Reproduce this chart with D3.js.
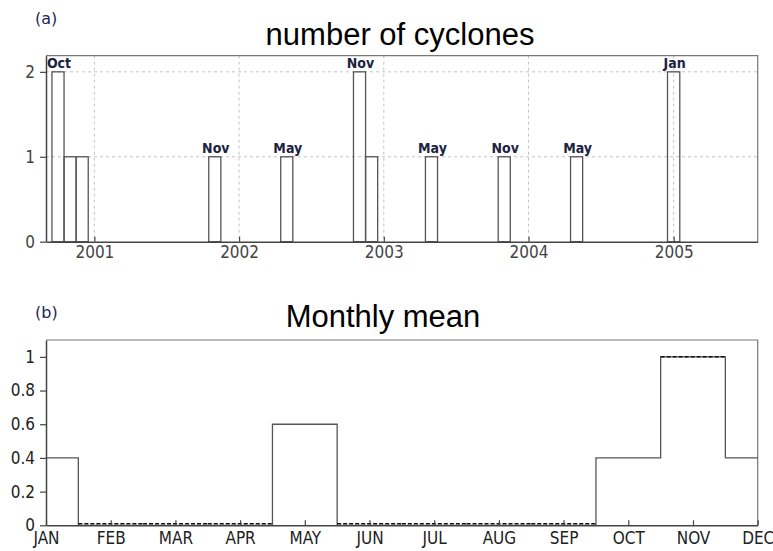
<!DOCTYPE html>
<html>
<head>
<meta charset="utf-8">
<script src="https://cdn.jsdelivr.net/npm/d3@7"></script>
<style>
  body { margin: 0; background: #fff; }
  text { fill: #222; }
  .narrow { font-family: "DejaVu Sans Condensed", "Liberation Sans Narrow", sans-serif; }
</style>
</head>
<body>
<script>
// (a) monthly cyclone counts (only months with cyclones)
var cycloneMonths = ['2000-10', '2000-11', '2000-12', '2001-11', '2002-05', '2002-11', '2002-12', '2003-05', '2003-11', '2004-05', '2005-01'];
var cycloneCounts = [2, 1, 1, 1, 1, 2, 1, 1, 1, 1, 2];
var cycloneLabels = ['Oct', '', '', 'Nov', 'May', 'Nov', '', 'May', 'Nov', 'May', 'Jan'];
var countTicks = [0, 1, 2];

// (b) monthly mean
var monthNames = ['JAN', 'FEB', 'MAR', 'APR', 'MAY', 'JUN', 'JUL', 'AUG', 'SEP', 'OCT', 'NOV', 'DEC'];
var monthlyMean = [0.4, 0, 0, 0, 0.6, 0, 0, 0, 0, 0.4, 1, 0.4];
var meanTicks = [0, 0.2, 0.4, 0.6, 0.8, 1];

var width = 773;
var height = 551;
var svg = d3.select('body').append('svg')
  .attr('width', width)
  .attr('height', height);

var left = 46, right = 757.7;
var parseMonth = d3.utcParse('%Y-%m');

// ---------- panel (a) ----------
var topA = 55.7, bottomA = 241.7;
var xA = d3.scaleUtc()
  .domain([parseMonth('2000-09'), parseMonth('2005-08')])
  .range([left, right]);
var yA = d3.scaleLinear().domain([0, 2.19]).range([bottomA, topA]);

var gA = svg.append('g');

// grid
gA.selectAll('.hgrid').data(countTicks.filter(function(d) { return d > 0; }))
  .enter().append('line')
  .attr('x1', left).attr('x2', right)
  .attr('y1', function(d) { return yA(d); })
  .attr('y2', function(d) { return yA(d); })
  .attr('stroke', '#c4c4c4').attr('stroke-dasharray', '3,3');
gA.selectAll('.vgrid').data(xA.ticks(d3.utcYear.every(1)))
  .enter().append('line')
  .attr('x1', function(d) { return xA(d); })
  .attr('x2', function(d) { return xA(d); })
  .attr('y1', topA).attr('y2', bottomA)
  .attr('stroke', '#c4c4c4').attr('stroke-dasharray', '3,3');

// frame top/right
gA.append('path')
  .attr('d', 'M' + left + ',' + topA + 'H' + right + 'V' + bottomA)
  .attr('fill', 'none').attr('stroke', '#777').attr('stroke-width', 1.2);

// bars centred on month start, one month wide
var barsA = cycloneMonths.map(function(m, i) {
  var d = parseMonth(m);
  var x0 = (xA(d3.utcMonth.offset(d, -1)) + xA(d)) / 2;
  var x1 = (xA(d3.utcMonth.offset(d, 1)) + xA(d)) / 2;
  return { x0: x0, x1: x1, v: cycloneCounts[i], label: cycloneLabels[i] };
});

gA.selectAll('rect.bar').data(barsA).enter().append('rect')
  .attr('class', 'bar')
  .attr('x', function(d) { return d.x0; })
  .attr('width', function(d) { return d.x1 - d.x0; })
  .attr('y', function(d) { return yA(d.v); })
  .attr('height', function(d) { return yA(0) - yA(d.v); })
  .attr('fill', 'none')
  .attr('stroke', '#555')
  .attr('stroke-width', 1.3);

gA.selectAll('text.blabel').data(barsA.filter(function(d) { return d.label; }))
  .enter().append('text')
  .attr('class', 'narrow')
  .attr('x', function(d) { return (d.x0 + d.x1) / 2 + 1; })
  .attr('y', function(d) { return yA(d.v) - 4; })
  .attr('text-anchor', 'middle')
  .style('font-size', '14px').style('font-weight', 'bold').style('fill', '#1c2340')
  .text(function(d) { return d.label; });

var axA = gA.append('g').attr('transform', 'translate(0,' + bottomA + ')')
  .call(d3.axisBottom(xA).ticks(d3.utcYear.every(1)).tickFormat(d3.utcFormat('%Y'))
    .tickSizeInner(-5).tickSizeOuter(0).tickPadding(4));
var ayA = gA.append('g').attr('transform', 'translate(' + left + ',0)')
  .call(d3.axisLeft(yA).tickValues(countTicks).tickFormat(d3.format('d'))
    .tickSizeInner(6).tickSizeOuter(0).tickPadding(5));

[axA, ayA].forEach(function(ax) {
  ax.select('.domain').attr('stroke', '#444').attr('stroke-width', 1.5);
  ax.selectAll('.tick line').attr('stroke', '#444').attr('stroke-width', 1.2);
  ax.selectAll('.tick text').attr('class', 'narrow').style('font-size', '17px').style('fill', '#444');
});

svg.append('text').attr('x', 35).attr('y', 23.5)
  .style('font-family', '"DejaVu Sans", sans-serif').style('font-size', '16px').style('fill', '#1c2a55')
  .text('(a)');
svg.append('text').attr('x', 400).attr('y', 45)
  .attr('text-anchor', 'middle')
  .style('font-family', '"Liberation Sans", Arial, sans-serif').style('font-size', '31px').style('fill', '#000')
  .text('number of cyclones');

// ---------- panel (b) ----------
var topB = 340, bottomB = 525.3;
var xB = d3.scalePoint().domain(monthNames).range([left, right]);
var yB = d3.scaleLinear().domain([0, 1.1]).range([bottomB, topB]);
var gB = svg.append('g');

gB.append('path')
  .attr('d', 'M' + left + ',' + topB + 'H' + right + 'V' + bottomB)
  .attr('fill', 'none').attr('stroke', '#777').attr('stroke-width', 1.2);

var step = d3.line()
  .x(function(d, i) { return xB(monthNames[i]); })
  .y(function(d) { return yB(d); })
  .curve(d3.curveStep);

gB.append('path')
  .attr('d', step(monthlyMean))
  .attr('fill', 'none')
  .attr('stroke', '#555')
  .attr('stroke-width', 1.3);

// dashed overlay where the second series coincides (zero and the maximum)
var maxMean = d3.max(monthlyMean);
var half = xB.step() / 2;
gB.selectAll('line.dash').data(monthlyMean.map(function(v, i) { return { v: v, m: monthNames[i] }; })
    .filter(function(d) { return d.v === 0 || d.v === maxMean; }))
  .enter().append('line')
  .attr('x1', function(d) { return Math.max(left, xB(d.m) - half); })
  .attr('x2', function(d) { return Math.min(right, xB(d.m) + half); })
  .attr('y1', function(d) { return yB(d.v) - (d.v === 0 ? 1.5 : 0); })
  .attr('y2', function(d) { return yB(d.v) - (d.v === 0 ? 1.5 : 0); })
  .attr('stroke', '#111')
  .attr('stroke-width', 1.5)
  .attr('stroke-dasharray', '4,2');

var axB = gB.append('g').attr('transform', 'translate(0,' + bottomB + ')')
  .call(d3.axisBottom(xB).tickSizeInner(-5).tickSizeOuter(0).tickPadding(7));
var ayB = gB.append('g').attr('transform', 'translate(' + left + ',0)')
  .call(d3.axisLeft(yB).tickValues(meanTicks).tickFormat(d3.format('')).tickSizeInner(6).tickSizeOuter(0).tickPadding(5));

[axB, ayB].forEach(function(ax) {
  ax.select('.domain').attr('stroke', '#444').attr('stroke-width', 1.5);
  ax.selectAll('.tick line').attr('stroke', '#444').attr('stroke-width', 1.2);
  ax.selectAll('.tick text').attr('class', 'narrow').style('font-size', '17px').style('fill', '#222');
});

svg.append('text').attr('x', 35).attr('y', 318)
  .style('font-family', '"DejaVu Sans", sans-serif').style('font-size', '16px').style('fill', '#1c2a55')
  .text('(b)');
svg.append('text').attr('x', 383).attr('y', 327)
  .attr('text-anchor', 'middle')
  .style('font-family', '"Liberation Sans", Arial, sans-serif').style('font-size', '31px').style('fill', '#000')
  .text('Monthly mean');
</script>
</body>
</html>
